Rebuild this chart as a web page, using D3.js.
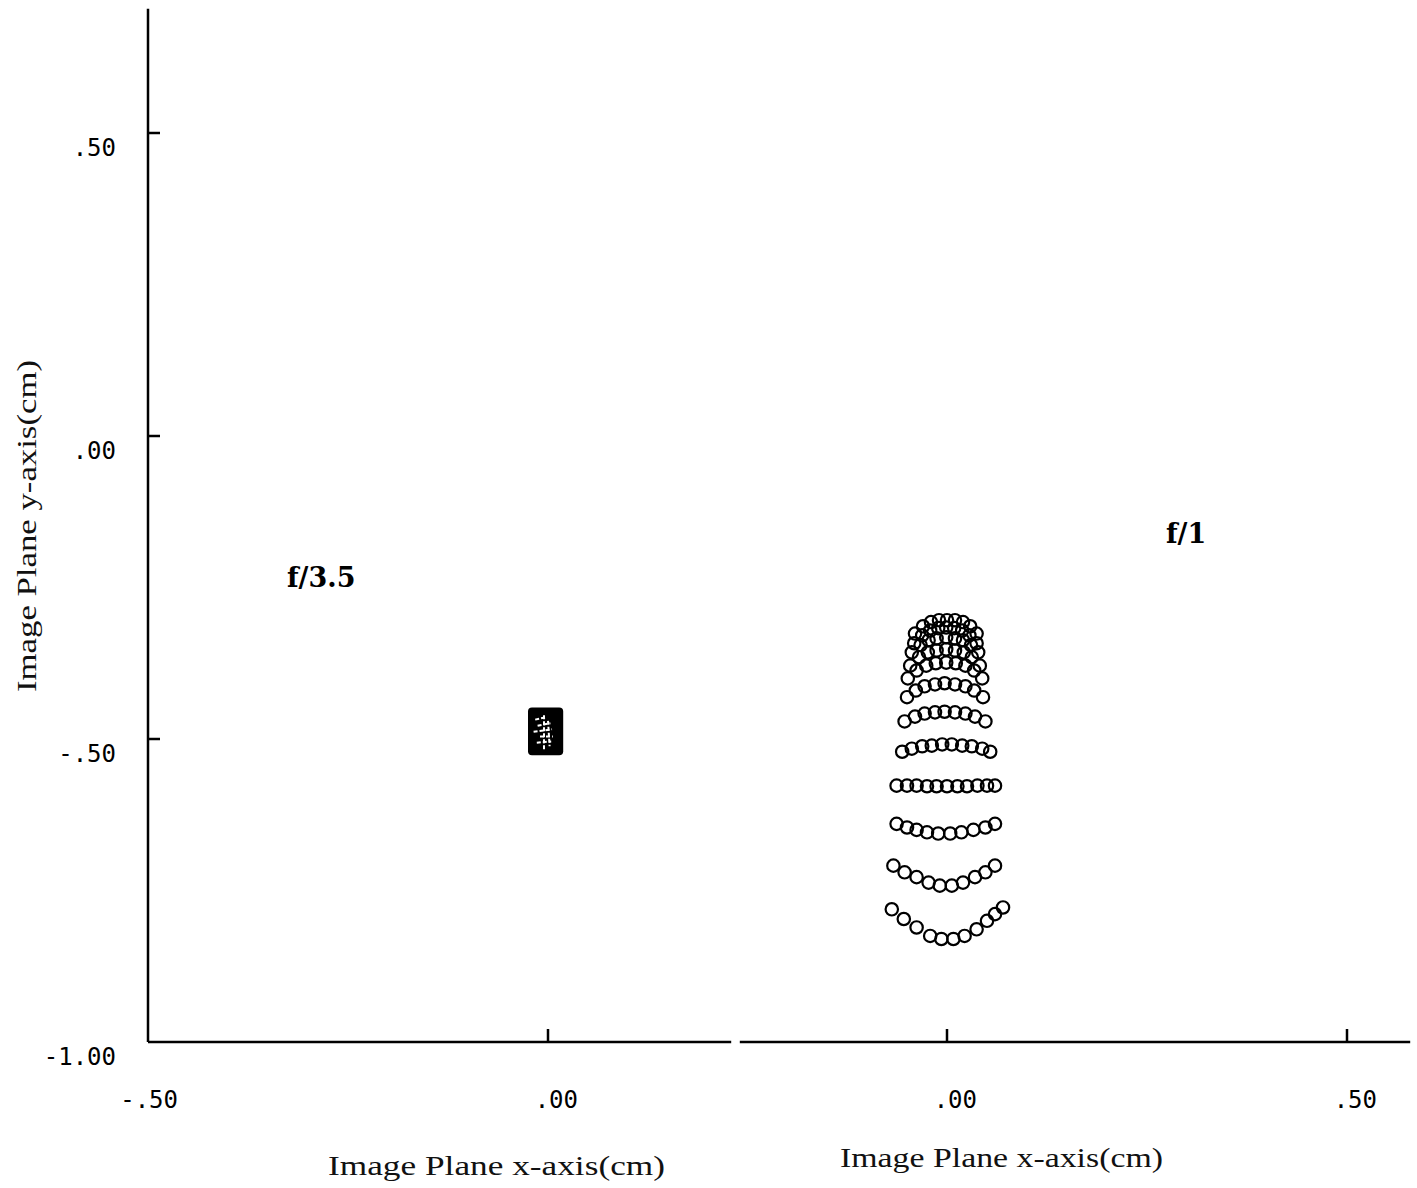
<!DOCTYPE html>
<html>
<head>
    <title>Spot diagrams f/3.5 and f/1</title>
    <script src="https://d3js.org/d3.v7.min.js"></script>
    <style>
        body { margin: 0; background: #fff; }
        .axis-line { stroke: #000; stroke-width: 2.5; fill: none; }
        .tick-label { font-family: "DejaVu Sans Mono", monospace; font-size: 24px; fill: #000; }
        .title { font-family: "Liberation Serif", serif; font-size: 28px; fill: #111; }
        .fnum { font-family: "DejaVu Serif", serif; font-weight: bold; font-size: 27px; fill: #000; }
        .spot { fill: none; stroke: #000; stroke-width: 2.2; }
    </style>
</head>
<body>
    <div id="chart"></div>
    <script>
        // tick values + labels
        const yTicks = [0.5, 0, -0.5, -1.0];
        const yTickLabels = [".50", ".00", "-.50", "-1.00"];
        const xTicksLeft = [-0.5, 0];
        const xTickLabelsLeft = ["-.50", ".00"];
        const xTicksRight = [0, 0.5];
        const xTickLabelsRight = [".00", ".50"];

        // extents of the two x axes (each panel has its own origin)
        const leftAxisRange = [-0.5, 0.229];
        const rightAxisRange = [-0.259, 0.579];
        const yAxisTop = 0.705;

        // f/3.5 spot: all rays merge into one dark block (extent in cm)
        const f35SpotX = [-0.025, 0.019];
        const f35SpotY = [-0.527, -0.448];
        // light gaps left inside the block [x1, y1, x2, y2]
        const f35Gaps = [
            [-0.016, -0.468, -0.002, -0.464],
            [-0.013, -0.478, 0.003, -0.474],
            [-0.018, -0.488, 0.005, -0.484],
            [-0.010, -0.496, 0.006, -0.496],
            [-0.014, -0.506, 0.004, -0.504],
            [-0.005, -0.461, -0.005, -0.518],
            [0.000, -0.470, 0.002, -0.512]
        ];

        // f/1 spot diagram, one row of ray hits per pupil zone (cm)
        const f1Rows = [
            { x: [-0.069, -0.054, -0.038, -0.021, -0.007, 0.008, 0.022, 0.037, 0.050, 0.060, 0.070],
              y: [-0.781, -0.797, -0.811, -0.825, -0.830, -0.830, -0.825, -0.814, -0.800, -0.789, -0.778] },
            { x: [-0.067, -0.053, -0.038, -0.023, -0.009, 0.006, 0.020, 0.035, 0.048, 0.060],
              y: [-0.709, -0.720, -0.728, -0.737, -0.742, -0.742, -0.737, -0.728, -0.720, -0.709] },
            { x: [-0.063, -0.050, -0.038, -0.025, -0.011, 0.004, 0.018, 0.033, 0.048, 0.060],
              y: [-0.640, -0.646, -0.650, -0.654, -0.656, -0.656, -0.654, -0.650, -0.646, -0.640] },
            { x: [-0.063, -0.050, -0.038, -0.025, -0.013, 0.000, 0.013, 0.025, 0.038, 0.050, 0.060],
              y: [-0.577, -0.577, -0.577, -0.578, -0.578, -0.578, -0.578, -0.578, -0.577, -0.577, -0.577] },
            { x: [-0.056, -0.044, -0.031, -0.019, -0.006, 0.006, 0.019, 0.031, 0.044, 0.054],
              y: [-0.521, -0.516, -0.512, -0.511, -0.509, -0.509, -0.511, -0.512, -0.516, -0.521] },
            { x: [-0.053, -0.040, -0.028, -0.015, -0.003, 0.010, 0.023, 0.035, 0.048],
              y: [-0.471, -0.463, -0.458, -0.456, -0.455, -0.456, -0.458, -0.463, -0.471] },
            { x: [-0.050, -0.039, -0.028, -0.015, -0.003, 0.010, 0.023, 0.034, 0.045],
              y: [-0.431, -0.420, -0.413, -0.410, -0.408, -0.410, -0.413, -0.420, -0.431] },
            { x: [-0.049, -0.038, -0.026, -0.014, -0.001, 0.011, 0.023, 0.034, 0.044],
              y: [-0.400, -0.387, -0.379, -0.375, -0.374, -0.375, -0.379, -0.387, -0.400] },
            { x: [-0.046, -0.035, -0.024, -0.013, -0.001, 0.010, 0.021, 0.031, 0.041],
              y: [-0.379, -0.365, -0.357, -0.354, -0.352, -0.354, -0.357, -0.365, -0.379] },
            { x: [-0.044, -0.033, -0.023, -0.013, -0.001, 0.010, 0.020, 0.030, 0.039],
              y: [-0.357, -0.345, -0.337, -0.334, -0.332, -0.334, -0.337, -0.345, -0.357] },
            { x: [-0.041, -0.031, -0.021, -0.011, -0.001, 0.009, 0.019, 0.028, 0.037],
              y: [-0.342, -0.329, -0.321, -0.317, -0.316, -0.317, -0.321, -0.329, -0.342] },
            { x: [-0.040, -0.030, -0.020, -0.010, 0.000, 0.010, 0.020, 0.029, 0.037],
              y: [-0.326, -0.314, -0.307, -0.304, -0.304, -0.304, -0.307, -0.314, -0.326] }
        ];

        const width = 1417;
        const height = 1188;

        const y = d3.scaleLinear().domain([-1, 0.5]).range([1042, 133]);
        const xL = d3.scaleLinear().domain([-0.5, 0]).range([148, 548]);
        const xR = d3.scaleLinear().domain([0, 0.5]).range([947, 1347]);

        const svg = d3.select("#chart")
            .append("svg")
            .attr("width", width)
            .attr("height", height);

        // y axis
        svg.append("line").attr("class", "axis-line")
            .attr("x1", xL(-0.5)).attr("x2", xL(-0.5))
            .attr("y1", y(-1)).attr("y2", y(yAxisTop));

        svg.selectAll(".ytick").data(yTicks.filter(d => d > -1))
            .enter().append("line").attr("class", "axis-line ytick")
            .attr("x1", xL(-0.5)).attr("x2", xL(-0.5) + 12)
            .attr("y1", d => y(d)).attr("y2", d => y(d));

        svg.selectAll(".ylab").data(yTicks)
            .enter().append("text").attr("class", "tick-label ylab")
            .attr("text-anchor", "end")
            .attr("x", xL(-0.5) - 32)
            .attr("y", d => y(d) + 23)
            .text((d, i) => yTickLabels[i]);

        // x axes, two panels
        function xAxis(scale, range, ticks, labels) {
            svg.append("line").attr("class", "axis-line")
                .attr("x1", scale(range[0])).attr("x2", scale(range[1]))
                .attr("y1", y(-1)).attr("y2", y(-1));
            svg.selectAll(null).data(ticks.filter(d => scale(d) > 160))
                .enter().append("line").attr("class", "axis-line")
                .attr("x1", d => scale(d)).attr("x2", d => scale(d))
                .attr("y1", y(-1)).attr("y2", y(-1) - 13);
            svg.selectAll(null).data(ticks)
                .enter().append("text").attr("class", "tick-label")
                .attr("text-anchor", "end")
                .attr("x", d => scale(d) + 30)
                .attr("y", y(-1) + 66)
                .text((d, i) => labels[i]);
        }
        xAxis(xL, leftAxisRange, xTicksLeft, xTickLabelsLeft);
        xAxis(xR, rightAxisRange, xTicksRight, xTickLabelsRight);

        // titles
        svg.append("text").attr("class", "title")
            .attr("x", 328).attr("y", 1175)
            .attr("textLength", 337).attr("lengthAdjust", "spacingAndGlyphs")
            .text("Image Plane x-axis(cm)");
        svg.append("text").attr("class", "title")
            .attr("x", 840).attr("y", 1167)
            .attr("textLength", 323).attr("lengthAdjust", "spacingAndGlyphs")
            .text("Image Plane x-axis(cm)");
        svg.append("text").attr("class", "title")
            .attr("transform", "translate(36,692) rotate(-90)")
            .attr("textLength", 332).attr("lengthAdjust", "spacingAndGlyphs")
            .text("Image Plane y-axis(cm)");

        svg.append("text").attr("class", "fnum")
            .attr("x", 287).attr("y", 587).text("f/3.5");
        svg.append("text").attr("class", "fnum")
            .attr("x", 1166).attr("y", 543).text("f/1");

        // f/3.5 spot
        svg.append("rect")
            .attr("x", xL(f35SpotX[0])).attr("y", y(f35SpotY[1]))
            .attr("width", xL(f35SpotX[1]) - xL(f35SpotX[0]))
            .attr("height", y(f35SpotY[0]) - y(f35SpotY[1]))
            .attr("rx", 4).attr("fill", "#000");
        svg.selectAll(".gap").data(f35Gaps)
            .enter().append("line")
            .attr("x1", d => xL(d[0])).attr("y1", d => y(d[1]))
            .attr("x2", d => xL(d[2])).attr("y2", d => y(d[3]))
            .attr("stroke", "#fff").attr("stroke-width", 2)
            .attr("stroke-dasharray", "4 2");

        // f/1 spot
        const pts = [];
        f1Rows.forEach(r => r.x.forEach((v, i) => pts.push({ x: v, y: r.y[i] })));
        svg.selectAll(".spot").data(pts)
            .enter().append("circle").attr("class", "spot")
            .attr("cx", d => xR(d.x))
            .attr("cy", d => y(d.y))
            .attr("r", 6.2);
    </script>
</body>
</html>
